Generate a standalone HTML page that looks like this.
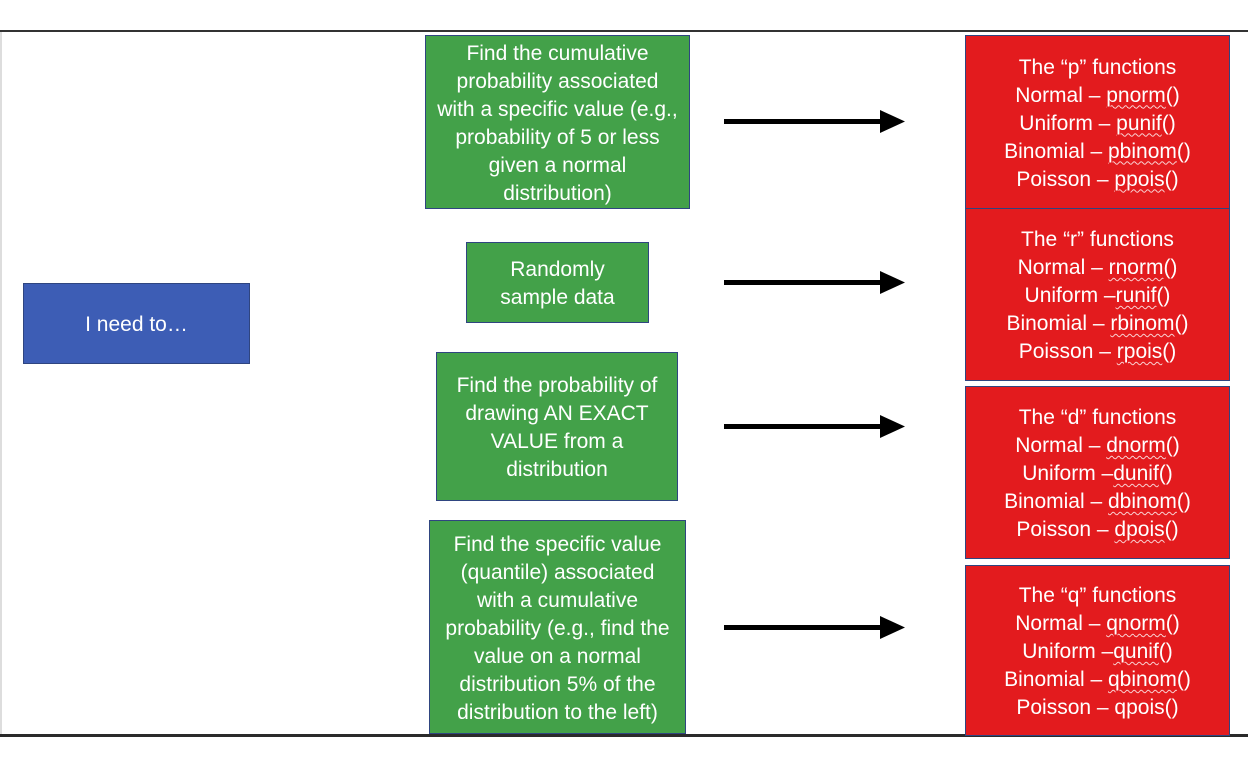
<!DOCTYPE html>
<html><head><style>
body{margin:0;width:1248px;height:768px;background:#fff;position:relative;overflow:hidden;font-family:"Liberation Sans",sans-serif}
.b{position:absolute;box-sizing:border-box;border:1.5px solid #2f4580;color:#fff;display:flex;align-items:center;justify-content:center;text-align:center;font-size:21px;line-height:28px;white-space:nowrap;padding-top:3px}
.g{background:#43a149}.r{background:#e31b1e}.bl{background:#3d5db5}
u{text-decoration:underline wavy rgba(255,255,255,.8);text-decoration-thickness:1px;text-underline-offset:3px}
</style></head><body>
<div style="position:absolute;left:0;top:30px;width:1248px;height:2px;background:#333"></div>
<div style="position:absolute;left:0;top:32px;width:2px;height:702px;background:#ddd"></div>
<div style="position:absolute;left:0;top:734px;width:1248px;height:3px;background:#2a2a2a"></div>
<div class="b bl" style="left:23px;top:283px;width:227px;height:81px"><div>I need to…</div></div>
<div class="b g" style="left:425px;top:35px;width:265px;height:174px"><div>Find the cumulative<br>probability associated<br>with a specific value (e.g.,<br>probability of 5 or less<br>given a normal<br>distribution)</div></div>
<div class="b g" style="left:466px;top:242px;width:183px;height:81px"><div>Randomly<br>sample data</div></div>
<div class="b g" style="left:436px;top:352px;width:242px;height:149px"><div>Find the probability of<br>drawing AN EXACT<br>VALUE from a<br>distribution</div></div>
<div class="b g" style="left:429px;top:520px;width:257px;height:214px"><div>Find the specific value<br>(quantile) associated<br>with a cumulative<br>probability (e.g., find the<br>value on a normal<br>distribution 5% of the<br>distribution to the left)</div></div>
<div class="b r" style="left:965px;top:35px;width:265px;height:174px"><div>The “p” functions<br>Normal – <u>pnorm</u>()<br>Uniform – <u>punif</u>()<br>Binomial – <u>pbinom</u>()<br>Poisson – <u>ppois</u>()</div></div>
<div class="b r" style="left:965px;top:208px;width:265px;height:173px"><div>The “r” functions<br>Normal – <u>rnorm</u>()<br>Uniform –<u>runif</u>()<br>Binomial – <u>rbinom</u>()<br>Poisson – <u>rpois</u>()</div></div>
<div class="b r" style="left:965px;top:386px;width:265px;height:173px"><div>The “d” functions<br>Normal – <u>dnorm</u>()<br>Uniform –<u>dunif</u>()<br>Binomial – <u>dbinom</u>()<br>Poisson – <u>dpois</u>()</div></div>
<div class="b r" style="left:965px;top:565px;width:265px;height:171px"><div>The “q” functions<br>Normal – <u>qnorm</u>()<br>Uniform –<u>qunif</u>()<br>Binomial – <u>qbinom</u>()<br>Poisson – qpois()</div></div>
<svg style="position:absolute;left:0;top:0" width="1248" height="768">
<g fill="#000">
<rect x="724" y="119" width="160" height="5"/><polygon points="880,110 905,121.5 880,133"/>
<rect x="724" y="280" width="160" height="5"/><polygon points="880,271 905,282.5 880,294"/>
<rect x="724" y="424" width="160" height="5"/><polygon points="880,415 905,426.5 880,438"/>
<rect x="724" y="625" width="160" height="5"/><polygon points="880,616 905,627.5 880,639"/>
</g></svg>
</body></html>
